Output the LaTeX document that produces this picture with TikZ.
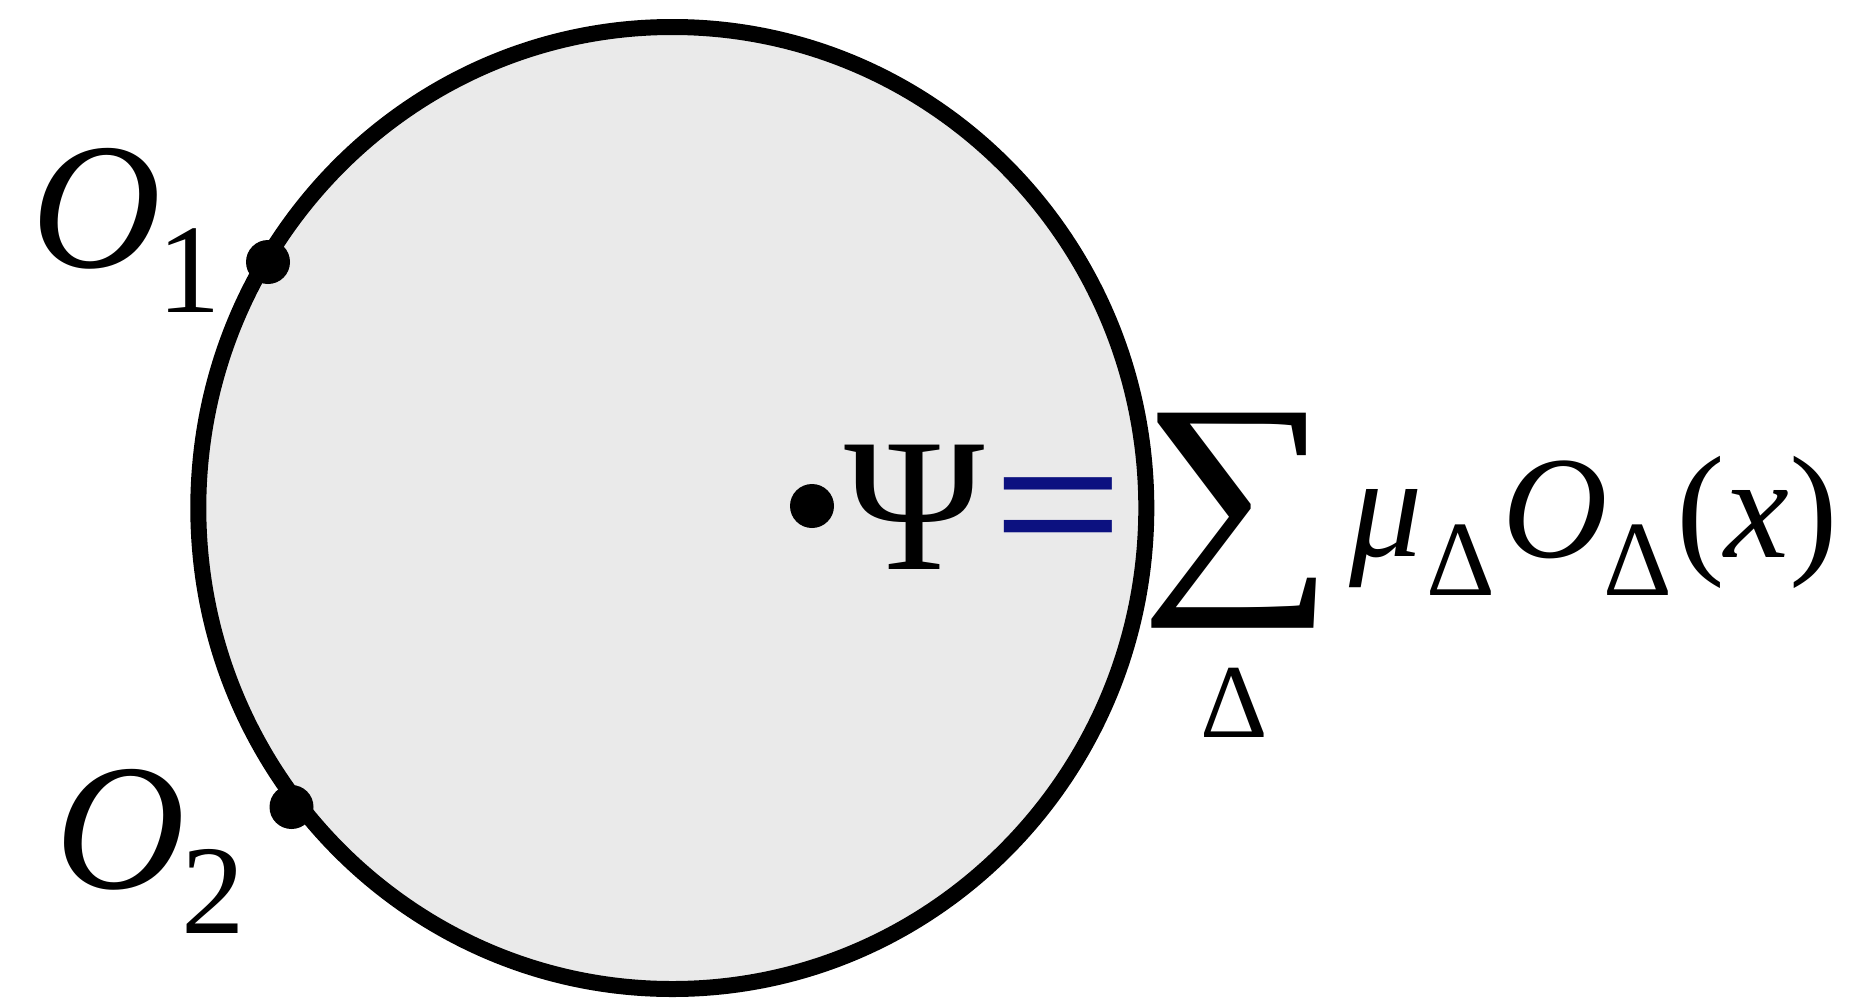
\documentclass[tikz,border=0pt]{standalone}
\usepackage{fontspec}
\usepackage{graphicx}
\setmainfont{Liberation Serif}
\newfontfamily\eqfont{Liberation Sans}[FakeStretch=1.3]
\definecolor{diskgray}{HTML}{EAEAEA}
\definecolor{eqnavy}{RGB}{12,17,128}
\newcommand{\fsz}[1]{\fontsize{#1}{#1}\selectfont}
\tikzset{
  glyph/.style={inner sep=0pt, outer sep=0pt, anchor=base},
  bigdot/.style={circle, fill=black, inner sep=0pt, minimum size=44pt},
}
\begin{document}
\begin{tikzpicture}[x=1pt,y=-1pt]
\useasboundingbox (0,0) rectangle (1865,1001);
% disk
\draw[line width=16pt, fill=diskgray] (672.3,508) ellipse [x radius=474pt, y radius=481pt];
% operator insertion points
\node[bigdot] (d1) at (268,262) {};
\node[bigdot] (d2) at (291.5,807) {};
\node[bigdot] (d0) at (812,506) {};
% labels O1, O2
\node[glyph, anchor=base west] (o1) at (31,267)
  {\fsz{180}\itshape O\kern-3pt\raisebox{-45pt}{\fsz{127}\upshape 1}};
\node[glyph, anchor=base west] (o2) at (55,888)
  {\fsz{180}\itshape O\kern-3pt\raisebox{-45pt}{\fsz{127}\upshape 2}};
% Psi = sum ...
\node[glyph] (psi) at (915,569) {\fsz{190}Ψ};
\node[glyph, text=eqnavy] (eq) at (1058,561) {\eqfont\fsz{171}=};
\node[inner sep=0pt] (sum) at (1238,520.5) {\resizebox*{196pt}{215pt}{∑}};
\node[glyph] (sumidx) at (1234,737) {\fsz{105}Δ};
\node[glyph] (mu) at (1386,556) {\fsz{146}\itshape μ};
\node[glyph] (mus) at (1461,595) {\fsz{107}Δ};
\node[glyph] (op) at (1555,557) {\fsz{146}\itshape O};
\node[glyph] (ops) at (1638,595) {\fsz{107}Δ};
\node[glyph] (arg) at (1757,557) {\fsz{146}(\textit{x})};
\end{tikzpicture}
\end{document}
